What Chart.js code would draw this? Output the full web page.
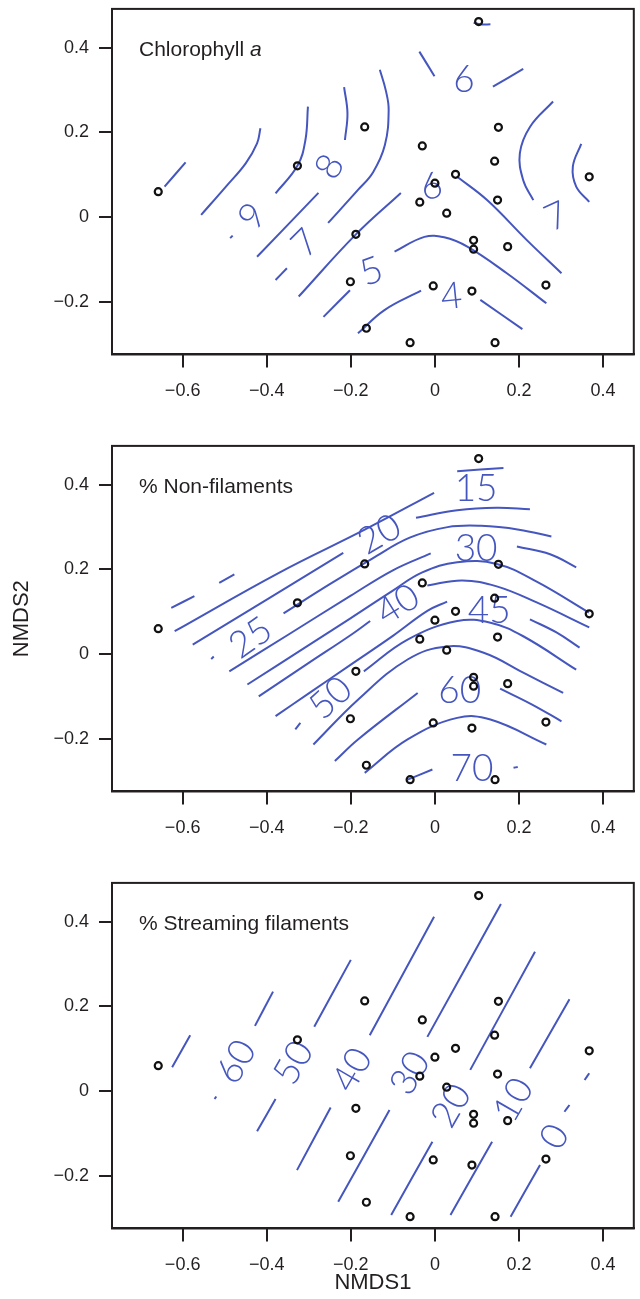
<!DOCTYPE html>
<html>
<head>
<meta charset="utf-8">
<script src="https://cdn.jsdelivr.net/npm/chart.js@4.4.1/dist/chart.umd.min.js"></script>
<style>
  html, body { margin: 0; padding: 0; background: #fff; }
  #wrap { position: relative; width: 640px; height: 1299px; }
  canvas { position: absolute; left: 0; }
</style>
</head>
<body>
<div id="wrap">
  <canvas id="chla" width="640" height="437" style="top:0px"></canvas>
  <canvas id="nonfil" width="640" height="437" style="top:437px"></canvas>
  <canvas id="stream" width="640" height="425" style="top:874px"></canvas>
</div>
<script>
// axes (NMDS1 / NMDS2), same for every panel
const xRange = [-0.768, 0.473];
const yRange = [-0.325, 0.492];
const xTicks = [-0.6, -0.4, -0.2, 0, 0.2, 0.4];
const xTickLabels = ['\u22120.6', '\u22120.4', '\u22120.2', '0', '0.2', '0.4'];
const yTicks = [-0.2, 0, 0.2, 0.4];
const yTickLabels = ['\u22120.2', '0', '0.2', '0.4'];

// sites (ordination scores)
const siteX = [-0.658, -0.327, -0.167, -0.188, -0.201, -0.163, -0.059, -0.030, -0.036, 0.000, 0.049, 0.028,
               -0.004, 0.092, 0.092, 0.088, 0.104, 0.142, 0.151, 0.149, 0.173, 0.143, 0.264, 0.367];
const siteY = [0.060, 0.121, 0.213, -0.041, -0.153, -0.263, -0.297, 0.168, 0.035, 0.080, 0.101, 0.009,
               -0.163, -0.055, -0.076, -0.175, 0.462, 0.132, 0.212, 0.040, -0.070, -0.297, -0.161, 0.095];

// Chlorophyll a contour pieces
const chlaLines = [
  [[-0.643, 0.072], [-0.593, 0.129]],
  [[-0.556, 0.005], [-0.497, 0.072], [-0.450, 0.127], [-0.423, 0.174], [-0.415, 0.210]],
  [[-0.302, 0.261], [-0.308, 0.182], [-0.327, 0.121], [-0.379, 0.056]],
  [[-0.487, -0.050], [-0.481, -0.044]],
  [[-0.216, 0.307], [-0.208, 0.245], [-0.214, 0.182]],
  [[-0.277, 0.057], [-0.423, -0.094]],
  [[-0.379, -0.149], [-0.352, -0.121]],
  [[-0.254, -0.014], [-0.183, 0.064], [-0.147, 0.106], [-0.119, 0.170], [-0.110, 0.253], [-0.117, 0.300], [-0.131, 0.348]],
  [[-0.324, -0.188], [-0.188, -0.041], [-0.081, 0.057]],
  [[0.053, 0.095], [0.124, 0.040], [0.218, -0.054], [0.301, -0.133]],
  [[-0.265, -0.236], [-0.202, -0.173]],
  [[-0.096, -0.082], [-0.025, -0.047], [0.022, -0.048], [0.077, -0.070], [0.171, -0.133], [0.265, -0.204]],
  [[-0.183, -0.275], [-0.120, -0.220], [-0.033, -0.174]],
  [[0.108, -0.196], [0.208, -0.265]],
  [[-0.037, 0.391], [-0.001, 0.333]],
  [[0.138, 0.308], [0.210, 0.350]],
  [[0.092, 0.459], [0.112, 0.455], [0.132, 0.456]],
  [[0.281, 0.273], [0.226, 0.213], [0.202, 0.151], [0.210, 0.087], [0.234, 0.040]],
  [[0.348, 0.173], [0.328, 0.119], [0.336, 0.072], [0.367, 0.036]]
];
const chlaLabelText = ['9', '8', '7', '6', '5', '4', '6', '7'];
const chlaLabelPos = [[-0.434, 0.001], [-0.250, 0.119], [-0.308, -0.062], [-0.008, 0.072],
                      [-0.151, -0.129], [0.039, -0.188], [0.069, 0.324], [0.289, 0.001]];
const chlaLabelTilt = [-50, -60, -45, -12, -20, -6, 0, -25];

// % Non-filaments contour pieces
const nonfilLines = [
  [[-0.627, 0.109], [-0.572, 0.137]],
  [[-0.513, 0.168], [-0.477, 0.188]],
  [[0.053, 0.432], [0.163, 0.440]],
  [[-0.619, 0.054], [-0.371, 0.192], [-0.167, 0.294], [-0.002, 0.381]],
  [[-0.576, 0.022], [-0.218, 0.239]],
  [[-0.045, 0.322], [0.053, 0.340], [0.147, 0.346], [0.226, 0.342]],
  [[-0.532, -0.012], [-0.526, -0.006]],
  [[-0.360, 0.096], [-0.250, 0.165], [-0.150, 0.225], [-0.060, 0.275], [0.030, 0.300], [0.110, 0.303], [0.200, 0.294], [0.277, 0.278]],
  [[-0.489, -0.041], [-0.350, 0.045], [-0.200, 0.138], [-0.100, 0.198], [-0.010, 0.238]],
  [[0.195, 0.254], [0.274, 0.236], [0.336, 0.205]],
  [[-0.446, -0.072], [-0.300, 0.021], [-0.200, 0.085], [-0.100, 0.150], [-0.030, 0.193], [0.053, 0.217], [0.147, 0.213], [0.242, 0.171], [0.366, 0.098]],
  [[-0.419, -0.100], [-0.300, -0.021], [-0.200, 0.045], [-0.154, 0.078]],
  [[-0.018, 0.162], [0.065, 0.174], [0.147, 0.160], [0.242, 0.122], [0.367, 0.063]],
  [[-0.379, -0.147], [-0.300, -0.093], [-0.200, -0.025], [-0.100, 0.043], [-0.018, 0.102], [0.029, 0.124]],
  [[0.226, 0.082], [0.289, 0.051], [0.344, 0.015]],
  [[-0.332, -0.178], [-0.320, -0.163]],
  [[-0.169, -0.041], [-0.065, 0.034], [0.053, 0.078], [0.132, 0.074], [0.210, 0.042], [0.336, -0.037]],
  [[-0.289, -0.214], [-0.183, -0.108], [-0.065, -0.013], [0.029, 0.018], [0.116, 0.003], [0.210, -0.044], [0.305, -0.092]],
  [[-0.238, -0.253], [-0.183, -0.202], [-0.041, -0.092]],
  [[0.155, -0.082], [0.230, -0.119], [0.301, -0.159]],
  [[-0.167, -0.281], [-0.065, -0.202], [0.053, -0.151], [0.132, -0.155], [0.265, -0.214]],
  [[-0.065, -0.297], [-0.006, -0.273]],
  [[0.187, -0.269], [0.197, -0.267]]
];
const nonfilLabelText = ['15', '20', '25', '30', '40', '45', '50', '60', '70'];
const nonfilLabelPos = [[0.098, 0.389], [-0.132, 0.283], [-0.438, 0.038], [0.098, 0.249], [-0.088, 0.117],
                        [0.129, 0.101], [-0.248, -0.104], [0.059, -0.088], [0.088, -0.273]];
const nonfilLabelTilt = [0, -30, -35, 0, -32, 0, -42, 0, 0];

// % Streaming filaments contour pieces
const streamLines = [
  [[-0.625, 0.056], [-0.582, 0.132]],
  [[-0.524, -0.019], [-0.520, -0.013]],
  [[-0.428, 0.154], [-0.385, 0.235]],
  [[-0.423, -0.095], [-0.379, -0.019]],
  [[-0.287, 0.152], [-0.200, 0.310]],
  [[-0.328, -0.187], [-0.248, -0.039]],
  [[-0.155, 0.132], [-0.002, 0.412]],
  [[-0.230, -0.262], [-0.108, -0.045]],
  [[-0.018, 0.128], [0.157, 0.442]],
  [[-0.104, -0.293], [-0.006, -0.120]],
  [[0.084, 0.050], [0.238, 0.329]],
  [[0.037, -0.293], [0.136, -0.120]],
  [[0.226, 0.054], [0.320, 0.217]],
  [[0.180, -0.297], [0.250, -0.175]],
  [[0.308, -0.049], [0.320, -0.033]],
  [[0.356, 0.026], [0.367, 0.042]]
];
const streamLabelText = ['60', '50', '40', '30', '20', '10', '0'];
const streamLabelPos = [[-0.472, 0.069], [-0.336, 0.067], [-0.196, 0.050], [-0.059, 0.042],
                        [0.039, -0.035], [0.187, -0.021], [0.285, -0.108]];
const streamLabelTilt = [-60, -60, -60, -60, -60, -60, -60];

const INK = '#231f20';
const BLUE = '#4556bf';
const TEXT_FONT = '"Liberation Sans", Arial, sans-serif';

const panelDeco = {
  id: 'panelDeco',
  beforeDatasetsDraw(chart, args, opts) {
    const {ctx, scales: {x, y}} = chart;
    ctx.save();
    ctx.fillStyle = BLUE;
    ctx.font = '300 37px Lato, "Open Sans", sans-serif';
    ctx.textAlign = 'center';
    ctx.textBaseline = 'middle';
    opts.text.forEach((t, i) => {
      ctx.save();
      ctx.translate(x.getPixelForValue(opts.pos[i][0]), y.getPixelForValue(opts.pos[i][1]));
      ctx.rotate(opts.tilt[i] * Math.PI / 180);
      ctx.fillText(t, 0, 0);
      ctx.restore();
    });
    ctx.restore();
  },
  afterDraw(chart, args, opts) {
    const {ctx, chartArea: a, scales: {y}} = chart;
    ctx.save();
    ctx.strokeStyle = INK;
    ctx.lineWidth = 2;
    ctx.strokeRect(a.left, a.top, a.right - a.left, a.bottom - a.top);
    // panel title, partly italic
    ctx.fillStyle = INK;
    ctx.textBaseline = 'alphabetic';
    let tx = a.left + 27;
    const ty = y.getPixelForValue(0.38);
    opts.title.forEach(part => {
      ctx.font = (part[1] ? 'italic ' : '') + '21px ' + TEXT_FONT;
      ctx.fillText(part[0], tx, ty);
      tx += ctx.measureText(part[0]).width;
    });
    ctx.restore();
  }
};

function makePanel(id, lines, text, pos, tilt, title, axisTitles) {
  const canvas = document.getElementById(id);
  const H = canvas.height;
  const padTop = 8.9;
  const plotH = (yRange[1] - yRange[0]) * 423;
  const datasets = [{
    data: siteX.map((v, i) => ({x: v, y: siteY[i]})),
    showLine: false,
    pointRadius: 3.5,
    pointBorderWidth: 2.2,
    pointBorderColor: '#111',
    pointBackgroundColor: 'rgba(255,255,255,0)'
  }].concat(lines.map(seg => ({
    data: seg.map(p => ({x: p[0], y: p[1]})),
    showLine: true,
    pointRadius: 0,
    borderColor: BLUE,
    borderWidth: 2,
    tension: 0.4
  })));

  return new Chart(canvas, {
    type: 'scatter',
    data: { datasets },
    options: {
      responsive: false,
      animation: false,
      devicePixelRatio: 1,
      layout: { padding: { top: padTop, right: 2, left: 0, bottom: 0 } },
      plugins: {
        legend: { display: false },
        tooltip: { enabled: false },
        panelDeco: { text, pos, tilt, title }
      },
      scales: {
        x: {
          type: 'linear',
          min: xRange[0],
          max: xRange[1],
          afterBuildTicks: s => { s.ticks = xTicks.map(v => ({value: v})); },
          afterFit: s => {
            s.height = H - padTop - plotH;
            s.paddingLeft = 0;
            s.paddingRight = 0;
          },
          ticks: {
            callback: (v, i) => xTickLabels[i],
            font: { family: TEXT_FONT, size: 18 },
            color: INK,
            padding: 13,
            maxRotation: 0,
            autoSkip: false
          },
          grid: { drawOnChartArea: false, tickLength: 13, color: INK, lineWidth: 2 },
          border: { display: true, color: INK, width: 2 },
          title: {
            display: !!axisTitles.x,
            text: axisTitles.x || '',
            font: { family: TEXT_FONT, size: 22 },
            color: INK,
            padding: { bottom: 3 }
          }
        },
        y: {
          type: 'linear',
          min: yRange[0],
          max: yRange[1],
          afterBuildTicks: s => { s.ticks = yTicks.map(v => ({value: v})); },
          afterFit: s => {
            s.width = 112;
            s.paddingTop = 0;
            s.paddingBottom = 0;
          },
          ticks: {
            callback: (v, i) => yTickLabels[i],
            font: { family: TEXT_FONT, size: 18 },
            color: INK,
            padding: 10
          },
          grid: { drawOnChartArea: false, tickLength: 13, color: INK, lineWidth: 2 },
          border: { display: true, color: INK, width: 2 },
          title: {
            display: !!axisTitles.y,
            text: axisTitles.y || '',
            font: { family: TEXT_FONT, size: 22 },
            color: INK,
            padding: { top: 9 }
          }
        }
      }
    },
    plugins: [panelDeco]
  });
}

makePanel('chla', chlaLines, chlaLabelText, chlaLabelPos, chlaLabelTilt,
          [['Chlorophyll ', false], ['a', true]], {});
makePanel('nonfil', nonfilLines, nonfilLabelText, nonfilLabelPos, nonfilLabelTilt,
          [['% Non-filaments', false]], { y: 'NMDS2' });
makePanel('stream', streamLines, streamLabelText, streamLabelPos, streamLabelTilt,
          [['% Streaming filaments', false]], { x: 'NMDS1' });
</script>
</body>
</html>
